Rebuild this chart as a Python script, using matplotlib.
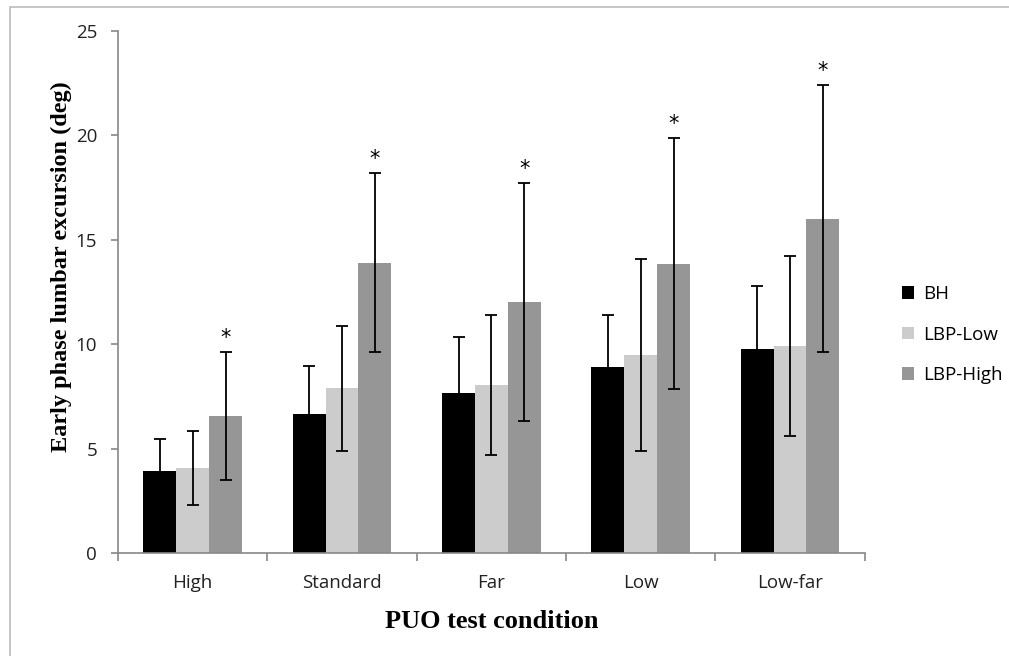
import numpy as np
import matplotlib
matplotlib.use("Agg")
import matplotlib.pyplot as plt
from matplotlib.patches import Rectangle

conditions = ["High", "Standard", "Far", "Low", "Low-far"]
groups = ["BH", "LBP-Low", "LBP-High"]
bh = [3.95, 6.65, 7.68, 8.9, 9.75]
bh_sd = [1.5, 2.3, 2.67, 2.5, 3.05]
lbp_low = [4.08, 7.88, 8.05, 9.5, 9.9]
lbp_low_sd = [1.78, 3.0, 3.35, 4.6, 4.3]
lbp_high = [6.55, 13.9, 12.0, 13.85, 16.0]
lbp_high_sd = [3.07, 4.3, 5.7, 6.0, 6.4]
significant = [True, True, True, True, True]

colors = ["#000000", "#cccccc", "#969696"]

fig = plt.figure(figsize=(10.09, 6.56), dpi=100)
ax = fig.add_axes([0.117, 0.157, 0.740, 0.796])

# light frame round the chart
fig.patches.append(Rectangle((0.010, -0.1), 1.2, 0.1 + 0.989, transform=fig.transFigure,
                             fill=False, edgecolor="#bbbbbb", linewidth=1.2))

x = np.arange(len(conditions))
w = 0.22
means = [bh, lbp_low, lbp_high]
sds = [bh_sd, lbp_low_sd, lbp_high_sd]
for i, (m, s) in enumerate(zip(means, sds)):
    pos = x + (i - 1) * w
    ax.bar(pos, m, width=w, color=colors[i], label=groups[i], zorder=2)
    ax.errorbar(pos, m, yerr=s, fmt="none", ecolor="black", elinewidth=1.3,
                capsize=4, capthick=1.3, zorder=3)

for xi, m, s, sig in zip(x, lbp_high, lbp_high_sd, significant):
    if sig:
        ax.annotate("*", (xi + w, m + s), xytext=(0, 3), textcoords="offset points",
                    ha="center", va="bottom", fontsize=15, family="DejaVu Sans")

ax.set_xlim(-0.5, len(conditions) - 0.5)
ax.set_ylim(0, 25)
ax.set_yticks([0, 5, 10, 15, 20, 25])
ax.set_xticks(x)
ax.set_xticklabels(conditions)
ax.set_xticks(np.arange(-0.5, len(conditions), 1), minor=True)
ax.tick_params(axis="x", which="major", length=0, pad=15)
ax.tick_params(axis="x", which="minor", length=6, color="#888888", width=1.2)
ax.tick_params(axis="y", length=5, color="#888888", width=1.2, pad=10)
for lab in ax.get_xticklabels() + ax.get_yticklabels():
    lab.set_family("Open Sans")
    lab.set_fontsize(13.5)
    lab.set_color("#222222")

for sp in ["top", "right"]:
    ax.spines[sp].set_visible(False)
for sp in ["left", "bottom"]:
    ax.spines[sp].set_color("#888888")
    ax.spines[sp].set_linewidth(1.2)

ax.set_xlabel("PUO test condition", family="Liberation Serif", fontweight="bold",
              fontsize=19, labelpad=13)
ax.set_ylabel("Early phase lumbar excursion (deg)", family="Liberation Serif",
              fontweight="bold", fontsize=17.5)
ax.yaxis.set_label_coords(-0.062, 0.548)

leg = ax.legend(loc="center left", bbox_to_anchor=(1.027, 0.418), frameon=False,
                prop={"family": "Open Sans", "size": 13.5}, handlelength=0.65,
                handleheight=0.65, labelspacing=1.2, handletextpad=0.5)

fig.savefig("out.png", dpi=100)
